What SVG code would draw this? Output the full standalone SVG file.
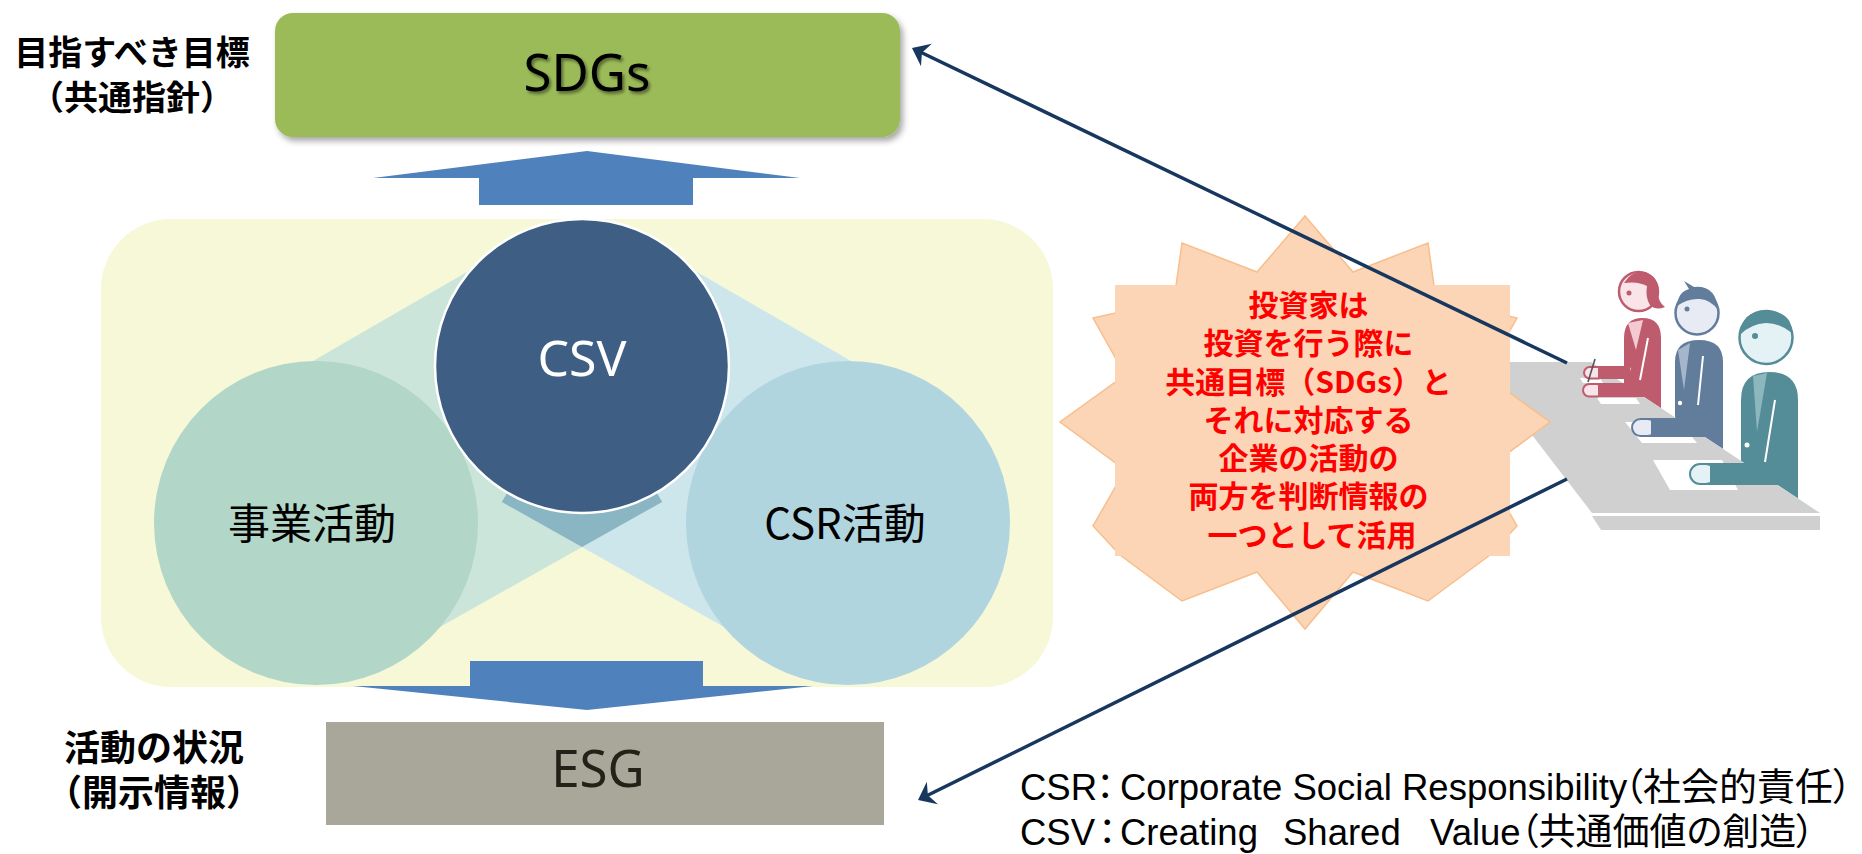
<svg xmlns="http://www.w3.org/2000/svg" width="1862" height="854" viewBox="0 0 1862 854">
  <style>
    .lbl { font-family: "Noto Sans CJK JP", "Noto Sans", sans-serif; font-weight: 700; fill: #000; text-anchor: middle; }
    .big { font-family: "Noto Sans", "DejaVu Sans", sans-serif; text-anchor: middle; }
    .jp { font-family: "Noto Sans CJK JP", sans-serif; text-anchor: middle; fill: #000; }
    .burst-text { font-family: "Noto Sans CJK JP", sans-serif; font-weight: 700; font-size: 30px; fill: #FF0000; text-anchor: middle; }
    .legend { font-family: "Liberation Sans", "Noto Sans CJK JP", sans-serif; font-size: 36.5px; fill: #000; font-feature-settings: "palt"; white-space: pre; }
    .link { stroke: #17375E; stroke-width: 3.5; fill: none; }
    .block { fill: #4F81BD; }
  </style>
  <defs>
    <filter id="boxShadow" x="-5%" y="-10%" width="115%" height="135%">
      <feDropShadow dx="3" dy="4" stdDeviation="3" flood-color="#000" flood-opacity="0.35"/>
    </filter>
    <filter id="textShadow" x="-10%" y="-20%" width="130%" height="150%">
      <feDropShadow dx="2" dy="2.5" stdDeviation="1.5" flood-color="#000" flood-opacity="0.45"/>
    </filter>
    <marker id="head" markerUnits="userSpaceOnUse" viewBox="-9 -13 18 26" refX="0" refY="0" markerWidth="18" markerHeight="26" orient="auto">
      <path d="M8,0 L-8,-12.5 L-3,0 L-8,12.5 Z" fill="#17375E"/>
    </marker>
  </defs>

  <rect width="1862" height="854" fill="#FFFFFF"/>

  <!-- background panel behind the three circles -->
  <g id="panel">
    <rect x="101" y="219" width="952" height="468" rx="70" ry="70" fill="#F6F8D8"/>
  </g>

  <!-- bands joining the outer circles to CSV, and their overlap -->
  <g id="bands">
    <polygon points="250,397.4 511.4,246.3 662.2,501.9 400,649.5" fill="#CCE5DA"/>
    <polygon points="914,397.4 652.6,246.3 501.8,501.9 764,649.5" fill="#CCE6EC"/>
    <polygon points="582,547 662.2,501.9 582,366 501.8,501.9" fill="#8AB5C2"/>
  </g>

  <g id="node-business">
    <circle cx="316" cy="523" r="162" fill="#B2D6C7"/>
    <text class="jp" x="312" y="539" font-size="42">事業活動</text>
  </g>
  <g id="node-csr">
    <circle cx="848" cy="523" r="162" fill="#B1D5DF"/>
    <text class="jp" x="845" y="539" font-size="42">CSR活動</text>
  </g>
  <g id="node-csv">
    <circle cx="582" cy="366" r="147" fill="#3E5E84" stroke="#FFFFFF" stroke-width="2.5"/>
    <text class="big" x="582" y="376" font-size="50" fill="#FFFFFF">CSV</text>
  </g>

  <!-- block arrows -->
  <g id="block-arrows">
    <polygon class="block" points="587,151 800,178 693,178 693,205 479,205 479,178 373,178"/>
    <polygon class="block" points="470,661 703,661 703,686 813,686 587,710 353,686 470,686"/>
  </g>

  <g id="node-sdgs">
    <rect x="275" y="13" width="625" height="124" rx="18" ry="18" fill="#9BBB59" filter="url(#boxShadow)"/>
    <text class="big" x="587" y="91" font-size="51" fill="#000" filter="url(#textShadow)">SDGs</text>
  </g>

  <g id="node-esg">
    <rect x="326" y="722" width="558" height="103" fill="#A9A79A"/>
    <text class="big" x="598" y="787" font-size="51" fill="#222218">ESG</text>
  </g>

  <g id="label-goal">
    <text class="lbl" font-size="34"><tspan x="132" y="65">目指すべき目標</tspan><tspan x="132" y="110">（共通指針）</tspan></text>
  </g>
  <g id="label-status">
    <text class="lbl" font-size="36"><tspan x="154" y="761">活動の状況</tspan><tspan x="154" y="806">（開示情報）</tspan></text>
  </g>

  <!-- investors seated at a table -->
  <g id="investors">
    <!-- torsos and heads (lower bodies hidden by the table) -->
    <path d="M1624,383.8 L1624,338 Q1624,318 1642.5,318 Q1661,318 1661,338 L1661,408.2 Z" fill="#BE5B6C"/>
    <polygon points="1628,323 1636,350 1643,320" fill="#F3CAD2"/>
    <line x1="1648" y1="338" x2="1640" y2="380" stroke="#FFFFFF" stroke-width="2"/>
    <circle cx="1628.5" cy="369" r="2.2" fill="#FFFFFF"/>
    <circle cx="1638.5" cy="291.5" r="19.5" fill="#F8E4E9" stroke="#BE5B6C" stroke-width="2.5"/>
    <path d="M1624,283 Q1631,272 1641,272 Q1658,273 1658,292 Q1658,302 1665,307 Q1656,311 1650,305 Q1645,297 1647,286 Q1638,281 1624,283 Z" fill="#BE5B6C"/>
    <circle cx="1629" cy="293" r="2.5" fill="#BE5B6C"/>

    <path d="M1675,417.4 L1675,362 Q1675,340 1699,340 Q1723,340 1723,362 L1723,449 Z" fill="#627D9C"/>
    <polygon points="1678,350 1684,390 1690,343" fill="#A5B6CB"/>
    <line x1="1703" y1="356" x2="1698" y2="405" stroke="#FFFFFF" stroke-width="2"/>
    <circle cx="1680" cy="403" r="2.2" fill="#FFFFFF"/>
    <circle cx="1697" cy="313" r="21.5" fill="#E8EBF3" stroke="#627D9C" stroke-width="2.5"/>
    <path d="M1677,306 Q1678,292 1689,289 L1684,281 L1694,287 Q1716,285 1718,310 Q1711,300 1700,299 Q1688,298 1677,306 Z" fill="#627D9C"/>
    <circle cx="1687" cy="309" r="2.5" fill="#627D9C"/>

    <path d="M1741,460.9 L1741,400 Q1741,372 1769.5,372 Q1798,372 1798,400 L1798,498.5 Z" fill="#548C97"/>
    <polygon points="1753,376 1757,432 1767,373" fill="#8DB7BF"/>
    <line x1="1775" y1="400" x2="1765" y2="462" stroke="#FFFFFF" stroke-width="2"/>
    <circle cx="1747" cy="445" r="2.5" fill="#FFFFFF"/>
    <circle cx="1766" cy="337.5" r="26.5" fill="#E4F1F5" stroke="#548C97" stroke-width="2.5"/>
    <path d="M1741,334 Q1741,311 1766,311 Q1792,311 1792,333 Q1780,323 1766,323 Q1751,324 1741,334 Z" fill="#548C97"/>
    <circle cx="1755" cy="336" r="3" fill="#548C97"/>

    <!-- table -->
    <polygon points="1476,362 1591,362 1820,513 1592,513" fill="#D0D0D0"/>
    <polygon points="1592,516 1820,516 1820,530 1601,530" fill="#D0D0D0"/>

    <!-- papers -->
    <polygon points="1580,378 1600,378 1603,383 1583,383" fill="#FFFFFF"/>
    <polygon points="1597,398 1636,398 1640,404 1601,404" fill="#FFFFFF"/>
    <polygon points="1625,422 1680,422 1697,443 1642,443" fill="#FFFFFF"/>
    <polygon points="1653,460 1722,460 1738,490 1670,490" fill="#FFFFFF"/>

    <!-- arms and hands -->
    <rect x="1596" y="366" width="34" height="13" fill="#BE5B6C"/>
    <rect x="1584" y="367" width="20" height="11.5" rx="5.75" fill="#F8E4E9" stroke="#BE5B6C" stroke-width="2"/>
    <rect x="1598" y="366" width="8" height="13" fill="#BE5B6C"/>
    <line x1="1595" y1="359" x2="1588" y2="382" stroke="#555555" stroke-width="1.6"/>
    <rect x="1596" y="383" width="54" height="14" fill="#BE5B6C"/>
    <rect x="1583" y="384" width="20" height="12.5" rx="6.25" fill="#F8E4E9" stroke="#BE5B6C" stroke-width="2"/>
    <rect x="1598" y="383" width="8" height="14" fill="#BE5B6C"/>

    <rect x="1645" y="418" width="70" height="19" fill="#627D9C"/>
    <rect x="1632" y="419" width="24" height="17" rx="8.5" fill="#E8EBF3" stroke="#627D9C" stroke-width="2"/>
    <rect x="1651" y="418" width="8" height="19" fill="#627D9C"/>

    <g transform="rotate(50.7 1700 401)">
      <rect x="-14" y="-13" width="76" height="26" rx="13" fill="#548C97" stroke="#FFFFFF" stroke-width="2"/>
      <rect x="-13" y="-11.5" width="26" height="23" rx="11.5" fill="#E4F1F5" stroke="#548C97" stroke-width="2"/>
      <rect x="6" y="-12" width="8" height="24" fill="#548C97"/>
    </g>

    <rect x="1705" y="463" width="85" height="22" fill="#548C97"/>
    <rect x="1690" y="464" width="26" height="20" rx="10" fill="#E4F1F5" stroke="#548C97" stroke-width="2"/>
    <rect x="1710" y="463" width="8" height="22" fill="#548C97"/>
  </g>

  <!-- callout burst -->
  <g id="callout">
    <polygon points="1305,216 1353,272 1428,243 1436,300 1517,318 1485,375 1550,422 1485,470 1517,526 1490,555 1428,601 1353,572 1305,629 1257,572 1182,601 1120,555 1093,526 1125,470 1060,422 1125,375 1093,318 1174,300 1182,243 1257,272" fill="#FBD5B5" stroke="#F8BE8C" stroke-width="1.5" stroke-linejoin="miter"/>
    <rect x="1115" y="285" width="395" height="271" fill="#FBD5B5"/>
    <text class="burst-text">
      <tspan x="1312" y="316">投資家は</tspan>
      <tspan x="1312" y="354">投資を行う際に</tspan>
      <tspan x="1312" y="393">共通目標（SDGs）と</tspan>
      <tspan x="1312" y="431">それに対応する</tspan>
      <tspan x="1312" y="469">企業の活動の</tspan>
      <tspan x="1312" y="507">両方を判断情報の</tspan>
      <tspan x="1312" y="546">一つとして活用</tspan>
    </text>
  </g>

  <!-- connectors -->
  <g id="connectors">
    <line class="link" x1="1567" y1="363" x2="919.2" y2="51.5" marker-end="url(#head)"/>
    <line class="link" x1="1567" y1="479" x2="925.2" y2="796.5" marker-end="url(#head)"/>
  </g>

  <g id="legend">
    <text class="legend" y="800"><tspan x="1020">CSR</tspan><tspan x="1096">：</tspan><tspan x="1120">Corporate Social Responsibility</tspan><tspan x="1624" font-size="38">（社会的責任）</tspan></text>
    <text class="legend" y="845"><tspan x="1020">CSV</tspan><tspan x="1098">：</tspan><tspan x="1120">Creating  </tspan><tspan x="1283">Shared  </tspan><tspan x="1430">Value</tspan><tspan x="1520" font-size="37">（共通価値の創造）</tspan></text>
  </g>
</svg>
